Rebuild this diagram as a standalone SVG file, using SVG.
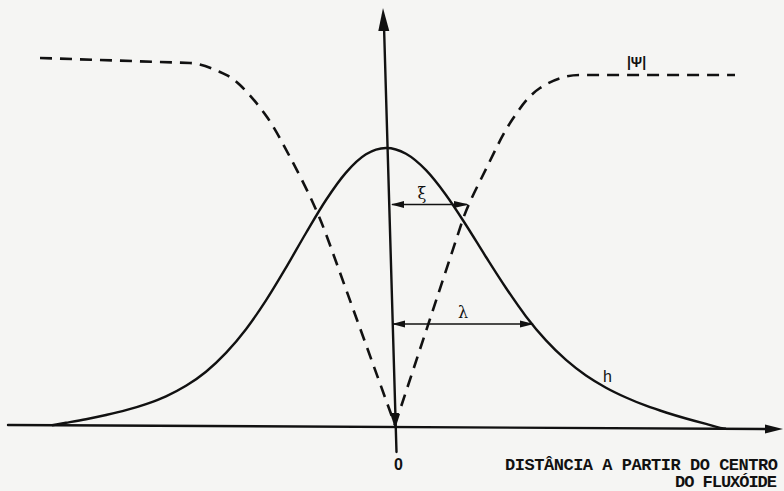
<svg xmlns="http://www.w3.org/2000/svg" width="784" height="491" viewBox="0 0 784 491">
<defs>
<style>
.ax{stroke:#111;stroke-width:2.4;fill:none;stroke-linecap:round}
.sol{stroke:#111;stroke-width:2.4;fill:none;stroke-linejoin:round}
.dash{stroke:#111;stroke-width:2.6;fill:none;stroke-dasharray:12 8}
.dim{stroke:#111;stroke-width:1.6;fill:none}
.head{fill:#111;stroke:none}
.lbl{font-family:"Liberation Sans","DejaVu Sans",sans-serif;fill:#111}
.cap{font-family:"Liberation Mono","DejaVu Sans Mono",monospace;fill:#111;font-weight:bold;font-size:17px}
.greek{font-family:"DejaVu Serif","Liberation Serif",serif;fill:#111}
</style>
</defs>
<rect width="784" height="491" fill="#f5f5f3"/>
<g id="axes">
<line class="ax" x1="8" y1="425" x2="768" y2="429"/>
<polygon class="head" points="783,429 765,424.5 765,433.5"/>
<line class="ax" x1="396.5" y1="452" x2="384" y2="26"/>
<polygon class="head" points="383,8 378.3,31 389.3,31"/>
<polygon class="head" points="394.6,427 390,413 399,413"/>
</g>
<g id="curve-h">
<path class="sol" d="M52,425.2 C56.67,424.4 60.33,423.8 66,422.8 C71.67,421.8 79.33,420.5 86,419.2 C92.67,417.9 99.33,416.5 106,415 C112.67,413.5 119.33,412.02 126,410.2 C132.67,408.38 139.33,406.42 146,404.1 C152.67,401.78 159.33,399.35 166,396.3 C172.67,393.25 179.33,389.9 186,385.8 C192.67,381.7 199.33,377.18 206,371.7 C212.67,366.22 219.33,359.98 226,352.9 C232.67,345.82 239.33,337.95 246,329.2 C252.67,320.45 259.33,310.67 266,300.4 C272.67,290.13 279.33,278.83 286,267.6 C292.67,256.37 299.33,244.27 306,233 C312.67,221.73 319.33,210.07 326,200 C332.67,189.93 339.33,180.22 346,172.6 C352.67,164.98 359.33,158.4 366,154.3 C372.67,150.2 379.33,148.08 386,148 C392.67,147.92 399.33,150.1 406,153.8 C412.67,157.5 419.33,163.33 426,170.2 C432.67,177.07 439.33,185.87 446,195 C452.67,204.13 459.33,214.67 466,225 C472.67,235.33 479.33,246.5 486,257 C492.67,267.5 499.33,278.1 506,288 C512.67,297.9 519.33,307.67 526,316.4 C532.67,325.13 539.33,333.15 546,340.4 C552.67,347.65 559.33,354.05 566,359.9 C572.67,365.75 579.33,370.87 586,375.5 C592.67,380.13 599.33,384.03 606,387.7 C612.67,391.37 619.33,394.5 626,397.5 C632.67,400.5 639.33,403.2 646,405.7 C652.67,408.2 659.33,410.37 666,412.5 C672.67,414.63 679.33,416.6 686,418.5 C692.67,420.4 699.33,422.18 706,423.9 C712.67,425.62 719.33,428.2 726,428.8"/>
</g>
<g id="curve-psi">
<path class="dash" d="M40,58 L190,63 C200,63.3 211.7,68.3 220,72 C228.3,75.7 232.2,77.5 240,85 C247.8,92.5 258.7,105 267,117 C275.3,129 282.3,142.7 290,157 C297.7,171.3 306.3,188.3 313,203 C319.7,217.7 324.6,230 330,245 L395,425"/>
<path class="dash" d="M395,425 L462,222 C468.3,203 478.7,184 487,167 C495.3,150 503.2,133.2 512,120 C520.8,106.8 528.7,95.5 540,88 C551.3,80.5 565,75 580,75 L735,75"/>
</g>
<g id="dims">
<line class="dim" x1="392" y1="204.5" x2="467" y2="204.5"/>
<polygon class="head" points="391,204.5 404,201 404,208"/>
<polygon class="head" points="469,204.5 454,201 454,208"/>
<line class="dim" x1="393" y1="324" x2="532" y2="324"/>
<polygon class="head" points="392,324 405,320.5 405,327.5"/>
<polygon class="head" points="534,324 520,320.5 520,327.5"/>
</g>
<g id="labels">
<text class="greek" x="422" y="199" font-size="16" text-anchor="middle">ξ</text>
<text class="greek" x="463" y="318" font-size="16" text-anchor="middle">λ</text>
<text class="lbl" x="636.5" y="67" font-size="14" font-weight="bold" text-anchor="middle">|Ψ|</text>
<text class="lbl" x="607.5" y="382" font-size="16" text-anchor="middle">h</text>
<text class="lbl" x="398.5" y="469.5" font-size="16" font-weight="bold" text-anchor="middle">0</text>
<text class="cap" x="505" y="469.5" textLength="273" lengthAdjust="spacing">DISTÂNCIA A PARTIR DO CENTRO</text>
<text class="cap" x="675" y="487" textLength="102" lengthAdjust="spacing">DO FLUXÓIDE</text>
</g>
</svg>
